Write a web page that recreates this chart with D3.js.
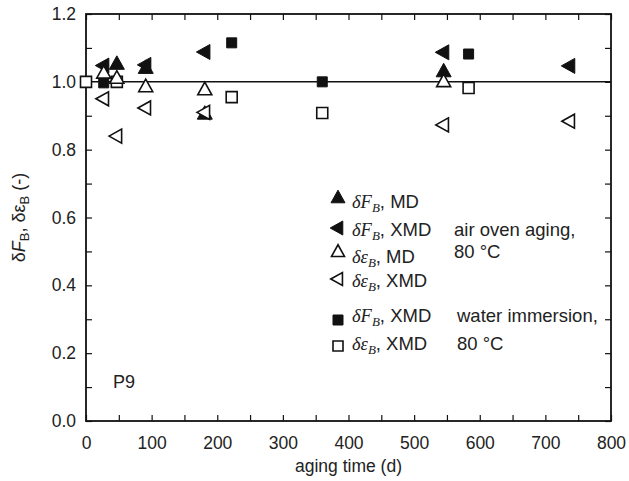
<!DOCTYPE html>
<html>
<head>
<meta charset="utf-8">
<script src="https://cdn.jsdelivr.net/npm/d3@7"></script>
<style>
  html, body { margin: 0; padding: 0; background: #fff; }
  svg { display: block; }
  text { font-family: "Liberation Sans", Arial, sans-serif; fill: #222; }
</style>
</head>
<body>
<svg id="chart" width="629" height="481"></svg>
<script>
// Aging time in days and normalised values for each series
const fbMD_days = [47, 91, 181, 545];
const fbMD_vals = [1.052, 1.04, 0.905, 1.03];

const fbXMD_days = [27, 91, 181, 545, 737];
const fbXMD_vals = [1.048, 1.05, 1.088, 1.087, 1.047];

const deMD_days = [27, 47, 91, 181, 545];
const deMD_vals = [1.025, 1.01, 0.985, 0.976, 1.0];

const deXMD_days = [27, 47, 91, 181, 545, 737];
const deXMD_vals = [0.95, 0.84, 0.923, 0.91, 0.873, 0.884];

const wfXMD_days = [27, 47, 222, 360, 583];
const wfXMD_vals = [0.997, 1.0, 1.115, 1.0, 1.082];

const weXMD_days = [0, 47, 222, 360, 583];
const weXMD_vals = [1.0, 1.0, 0.955, 0.908, 0.982];

const xTicks = [0, 100, 200, 300, 400, 500, 600, 700, 800];
const yTicks = [0.0, 0.2, 0.4, 0.6, 0.8, 1.0, 1.2];

const margin = { left: 86, right: 18, top: 14, bottom: 60 };
const W = 629, H = 481;
const svg = d3.select("#chart");

const x = d3.scaleLinear().domain([0, 800]).range([margin.left, W - margin.right]);
const y = d3.scaleLinear().domain([0, 1.2]).range([H - margin.bottom, margin.top]);

const ink = "#111";

// Axes with inward ticks (every 50 d / 0.1)
const tickLen = 6;
const xMinor = d3.range(0, 801, 50);
const yMinor = d3.range(0, 13).map(i => i / 10);

svg.append("g").attr("transform", `translate(0,${y(0)})`)
  .call(d3.axisBottom(x).tickValues(xMinor).tickSize(-tickLen).tickFormat(""))
  .call(g => g.select(".domain").remove())
  .call(g => g.selectAll("line").attr("stroke", ink).attr("stroke-width", 1.2));
svg.append("g").attr("transform", `translate(0,${y(1.2)})`)
  .call(d3.axisTop(x).tickValues(xMinor).tickSize(-tickLen).tickFormat(""))
  .call(g => g.select(".domain").remove())
  .call(g => g.selectAll("line").attr("stroke", ink).attr("stroke-width", 1.2));
svg.append("g").attr("transform", `translate(${x(0)},0)`)
  .call(d3.axisLeft(y).tickValues(yMinor).tickSize(-tickLen).tickFormat(""))
  .call(g => g.select(".domain").remove())
  .call(g => g.selectAll("line").attr("stroke", ink).attr("stroke-width", 1.2));
svg.append("g").attr("transform", `translate(${x(800)},0)`)
  .call(d3.axisRight(y).tickValues(yMinor).tickSize(-tickLen).tickFormat(""))
  .call(g => g.select(".domain").remove())
  .call(g => g.selectAll("line").attr("stroke", ink).attr("stroke-width", 1.2));

// Tick labels
svg.append("g").attr("transform", `translate(0,${y(0)})`)
  .call(d3.axisBottom(x).tickValues(xTicks).tickSize(0).tickPadding(16).tickFormat(d3.format("d")))
  .call(g => g.select(".domain").remove())
  .call(g => g.selectAll("text").attr("font-size", 17.5).attr("fill", "#222")
    .attr("font-family", "Liberation Sans, Arial, sans-serif"));
svg.append("g").attr("transform", `translate(${x(0)},0)`)
  .call(d3.axisLeft(y).tickValues(yTicks).tickSize(0).tickPadding(10).tickFormat(d3.format(".1f")))
  .call(g => g.select(".domain").remove())
  .call(g => g.selectAll("text").attr("font-size", 17.5).attr("fill", "#222")
    .attr("font-family", "Liberation Sans, Arial, sans-serif"));

// Frame
svg.append("rect")
  .attr("x", x(0)).attr("y", y(1.2))
  .attr("width", x(800) - x(0)).attr("height", y(0) - y(1.2))
  .attr("fill", "none").attr("stroke", ink).attr("stroke-width", 1.8);

// Reference line at 1.0
svg.append("line")
  .attr("x1", x(0)).attr("x2", x(800))
  .attr("y1", y(1.0)).attr("y2", y(1.0))
  .attr("stroke", ink).attr("stroke-width", 1.5);

// Marker shapes
function upTri(s) {
  const h = s * 0.9;
  return `M0,${-h * 0.62}L${s / 2},${h * 0.38}L${-s / 2},${h * 0.38}Z`;
}
function leftTri(s) {
  const h = s * 0.9;
  return `M${-h * 0.62},0L${h * 0.38},${-s / 2}L${h * 0.38},${s / 2}Z`;
}
function square(s) {
  return `M${-s / 2},${-s / 2}H${s / 2}V${s / 2}H${-s / 2}Z`;
}

const series = [
  { days: wfXMD_days, vals: wfXMD_vals, shape: square, size: 10, filled: true },
  { days: fbMD_days, vals: fbMD_vals, shape: upTri, size: 15, filled: true },
  { days: fbXMD_days, vals: fbXMD_vals, shape: leftTri, size: 15, filled: true },
  { days: weXMD_days, vals: weXMD_vals, shape: square, size: 11, filled: false },
  { days: deMD_days, vals: deMD_vals, shape: upTri, size: 14, filled: false },
  { days: deXMD_days, vals: deXMD_vals, shape: leftTri, size: 14, filled: false }
];

series.forEach(s => {
  svg.append("g").selectAll("path")
    .data(s.days.map((d, i) => [d, s.vals[i]]))
    .join("path")
    .attr("transform", d => `translate(${x(d[0])},${y(d[1])})`)
    .attr("d", s.shape(s.size))
    .attr("fill", s.filled ? ink : "#fff")
    .attr("stroke", ink)
    .attr("stroke-width", s.filled ? 1 : 1.6)
    .attr("stroke-linejoin", "miter");
});

// Legend
const legend = [
  { shape: upTri, size: 14, filled: true, sym: "F", label: "MD", my: 198, ty: 208, note: "" },
  { shape: leftTri, size: 14, filled: true, sym: "F", label: "XMD", my: 228, ty: 236, note: "air oven aging,", nx: 454, ny: 236 },
  { shape: upTri, size: 13, filled: false, sym: "ε", label: "MD", my: 252, ty: 263, note: "80 °C", nx: 454, ny: 258 },
  { shape: leftTri, size: 13, filled: false, sym: "ε", label: "XMD", my: 279, ty: 287, note: "" },
  { shape: square, size: 10, filled: true, sym: "F", label: "XMD", my: 320, ty: 322, note: "water immersion,", nx: 457, ny: 322 },
  { shape: square, size: 10, filled: false, sym: "ε", label: "XMD", my: 346, ty: 350, note: "80 °C", nx: 457, ny: 350 }
];

legend.forEach(l => {
  svg.append("path")
    .attr("transform", `translate(338,${l.my})`)
    .attr("d", l.shape(l.size))
    .attr("fill", l.filled ? ink : "#fff")
    .attr("stroke", ink)
    .attr("stroke-width", l.filled ? 1 : 1.6);
  const t = svg.append("text").attr("x", 352).attr("y", l.ty).attr("font-size", 18.5);
  t.append("tspan").attr("font-family", "Liberation Serif, serif").attr("font-style", "italic").text("δ" + l.sym);
  t.append("tspan").attr("font-family", "Liberation Serif, serif").attr("font-style", "italic")
    .attr("font-size", 13).attr("dy", 4).text("B");
  t.append("tspan").attr("dy", -4).text(", " + l.label);
  if (l.note) {
    svg.append("text").attr("x", l.nx).attr("y", l.ny).attr("font-size", 18.5).text(l.note);
  }
});

// Sample label
svg.append("text").attr("x", 113).attr("y", 388).attr("font-size", 18).text("P9");

// Axis titles
svg.append("text")
  .attr("x", (x(0) + x(800)) / 2).attr("y", 472)
  .attr("text-anchor", "middle").attr("font-size", 17.5)
  .text("aging time (d)");

const yt = svg.append("text")
  .attr("transform", `translate(25,${(y(0) + y(1.2)) / 2}) rotate(-90)`)
  .attr("text-anchor", "middle").attr("font-size", 18);
yt.append("tspan").text("δ");
yt.append("tspan").attr("font-style", "italic").text("F");
yt.append("tspan").attr("font-size", 13).attr("dy", 4).text("B");
yt.append("tspan").attr("dy", -4).text(", δε");
yt.append("tspan").attr("font-size", 13).attr("dy", 4).text("B");
yt.append("tspan").attr("dy", -4).text(" (-)");
</script>
</body>
</html>
